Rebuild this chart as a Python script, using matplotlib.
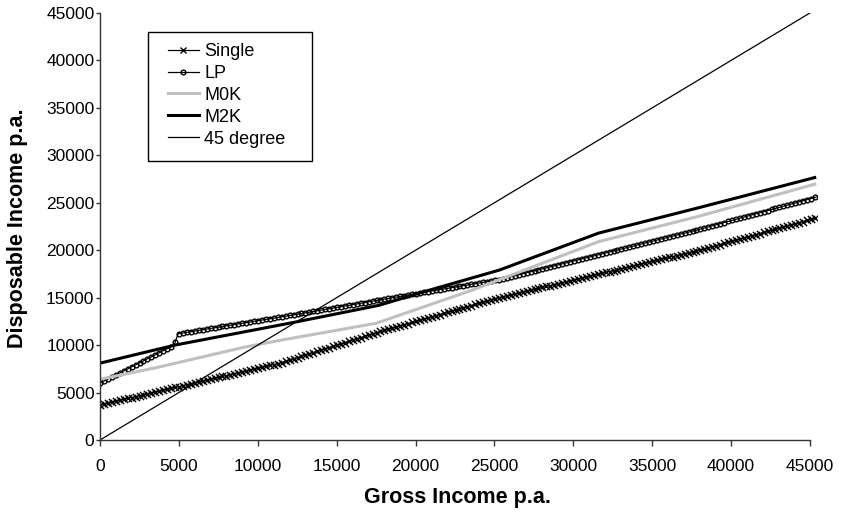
import numpy as np
import matplotlib
matplotlib.use("Agg")
import matplotlib.pyplot as plt
from matplotlib.patheffects import AbstractPathEffect, Normal
from matplotlib.path import Path
from matplotlib.transforms import Affine2D, IdentityTransform
from matplotlib.lines import Line2D
from matplotlib.patches import Rectangle

plt.rcParams['font.family'] = ['Liberation Sans', 'DejaVu Sans']

# ---- data ----
single_x = [0, 11400, 17700, 25300, 38000, 45400]
single_y = [3700, 8100, 11400, 15000, 20000, 23400]

lp_x = [0, 4700, 4950, 12300, 21000, 25300, 38000, 45400]
lp_y = [6000, 10000, 11200, 13200, 15700, 16900, 22200, 25600]

m0k_x = [0, 3500, 9200, 11400, 17500, 23600, 31600, 38000, 45400]
m0k_y = [6400, 7600, 9800, 10500, 12300, 15800, 20900, 23600, 27000]

m2k_x = [0, 4750, 12300, 17700, 20900, 25300, 31600, 38000, 45400]
m2k_y = [8100, 10000, 12400, 14200, 15800, 17900, 21800, 24500, 27700]

deg45_x = [0, 45400]
deg45_y = [0, 45400]

x_ticks = list(range(0, 45001, 5000))
y_ticks = list(range(0, 45001, 5000))
labels = ['Single', 'LP', 'M0K', 'M2K', '45 degree']


class MarkersAlongX(AbstractPathEffect):
    """Draw markers along a line at a fixed horizontal display spacing."""
    def __init__(self, marker_path, size_pt, step_pt, lw_pt, face=None):
        super().__init__()
        self.marker_path = marker_path
        self.size_pt = size_pt
        self.step_pt = step_pt
        self.lw_pt = lw_pt
        self.face = face

    def draw_path(self, renderer, gc, tpath, affine, rgbFace=None):
        v = affine.transform(tpath.vertices)
        xs, ys = v[:, 0], v[:, 1]
        step = renderer.points_to_pixels(self.step_pt)
        xp = np.arange(xs[0], xs[-1] + 1e-6, step)
        yp = np.interp(xp, xs, ys)
        pts = np.column_stack([xp, yp])
        gc0 = renderer.new_gc()
        gc0.copy_properties(gc)
        gc0.set_linewidth(self.lw_pt)
        gc0.set_dashes(0, None)
        half = renderer.points_to_pixels(self.size_pt) / 2.0
        mtrans = Affine2D().scale(half)
        renderer.draw_markers(gc0, self.marker_path, mtrans, Path(pts),
                              IdentityTransform(), self.face)
        gc0.restore()


xpath = Path([(-1, -1), (1, 1), (-1, 1), (1, -1)],
             [Path.MOVETO, Path.LINETO, Path.MOVETO, Path.LINETO])
circ = Path.unit_circle()

fig = plt.figure(figsize=(8.53, 5.17), dpi=100)
ax = fig.add_axes([100 / 853, 1 - 440 / 517, 717 / 853, 427 / 517])

step_pt = 3.95 * 72 / 100

ax.plot(single_x, single_y, color='black', lw=0.9,
        path_effects=[Normal(), MarkersAlongX(xpath, 4.5, step_pt, 1.0)])
ax.plot(lp_x, lp_y, color='black', lw=0.9,
        path_effects=[Normal(), MarkersAlongX(circ, 3.4, step_pt, 1.0)])
ax.plot(m0k_x, m0k_y, color='#c0c0c0', lw=2.2, solid_capstyle='butt')
ax.plot(m2k_x, m2k_y, color='black', lw=2.2, solid_capstyle='butt')
ax.plot(deg45_x, deg45_y, color='black', lw=0.9)

ax.set_xlim(0, 45450)
ax.set_ylim(0, 45000)
ax.set_xticks(x_ticks)
ax.set_yticks(y_ticks)
ax.set_xticklabels([str(t) for t in x_ticks])
ax.set_yticklabels([str(t) for t in y_ticks])
for s in ['top', 'right']:
    ax.spines[s].set_visible(False)
for s in ['left', 'bottom']:
    ax.spines[s].set_color('#333333')
    ax.spines[s].set_linewidth(1.0)
ax.spines['bottom'].set_bounds(0, 45000)
ax.tick_params(axis='x', direction='out', length=4, width=1, color='#333333',
               pad=10, labelsize=12.5)
ax.tick_params(axis='y', direction='out', length=3, width=1, color='#333333',
               pad=1, labelsize=12.5)

fig.text(457 / 853, 1 - 498 / 517, 'Gross Income p.a.', ha='center', va='center',
         fontsize=15.5, fontweight='bold')
fig.text(18 / 853, 1 - 228 / 517, 'Disposable Income p.a.', ha='center', va='center',
         rotation=90, fontsize=15.5, fontweight='bold')

handles = [
    Line2D([], [], color='black', lw=0.9, marker='x', ms=4.5, mew=1.0),
    Line2D([], [], color='black', lw=0.9, marker='o', ms=3.4, mew=1.0, mfc='none'),
    Line2D([], [], color='#c0c0c0', lw=2.2),
    Line2D([], [], color='black', lw=2.2),
    Line2D([], [], color='black', lw=0.9),
]
leg = fig.legend(handles, labels, loc='upper left',
                 bbox_to_anchor=(168 / 853, 1 - 43 / 517), frameon=False,
                 borderpad=0, fontsize=13, handlelength=1.7, handletextpad=0.3,
                 labelspacing=0.27, numpoints=1, borderaxespad=0)
fig.add_artist(Rectangle((148 / 853, 1 - 161 / 517), 164 / 853, 129 / 517,
                         transform=fig.transFigure, fill=False,
                         edgecolor='black', lw=1.0))

fig.savefig('out.png', dpi=100)
